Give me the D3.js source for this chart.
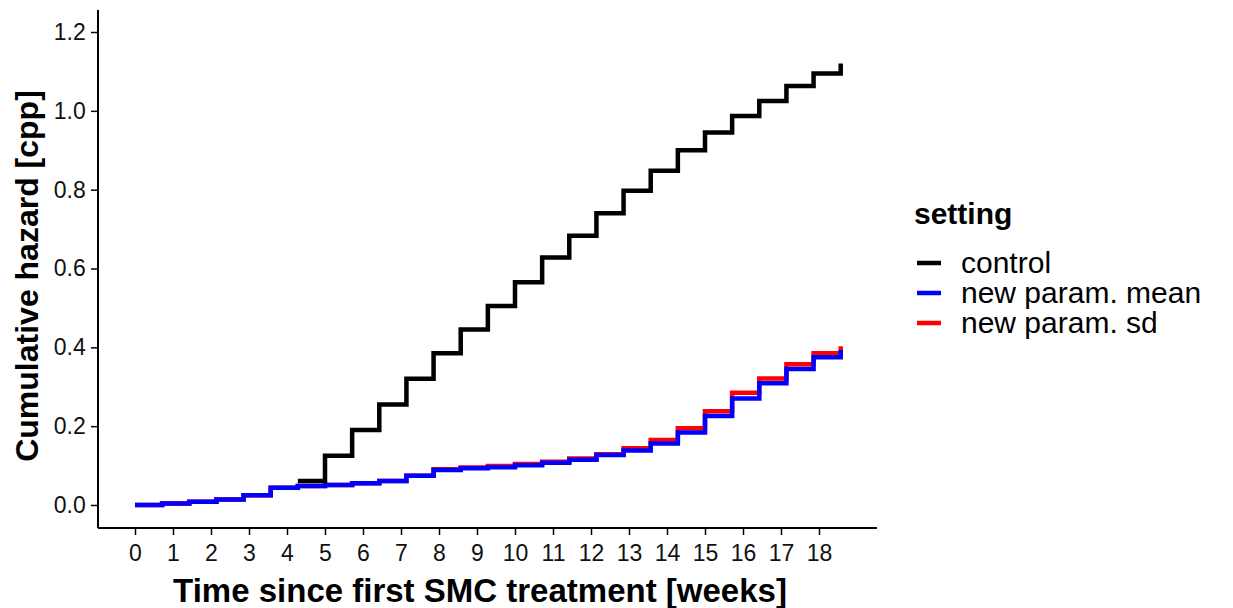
<!DOCTYPE html>
<html><head><meta charset="utf-8">
<script src="https://cdn.jsdelivr.net/npm/d3@7"></script>
<style>body{margin:0;background:#fff}text{font-family:"Liberation Sans",Arial,sans-serif}</style>
</head><body><svg id="c" width="1233" height="608"></svg>
<script>
// step times in weeks (one step every 5 days)
const stepTimes = d3.range(27).map(i => i * 5 / 7)
const controlStart = 6
const controlVals = [0.061,0.125,0.19,0.255,0.32,0.385,0.445,0.505,0.565,0.628,0.683,0.74,0.797,0.848,0.9,0.945,0.987,1.025,1.063,1.095,1.12]
const meanVals = [0,0.004,0.008,0.014,0.025,0.044,0.048,0.051,0.055,0.061,0.074,0.089,0.093,0.096,0.101,0.107,0.115,0.127,0.138,0.156,0.184,0.226,0.27,0.309,0.345,0.375,0.393]
const sdVals = [0,0.004,0.008,0.014,0.025,0.044,0.048,0.051,0.055,0.061,0.074,0.091,0.095,0.099,0.104,0.11,0.118,0.129,0.144,0.165,0.195,0.238,0.285,0.321,0.357,0.385,0.403]
const xTicks = d3.range(19)
const yTicks = [0,0.2,0.4,0.6,0.8,1.0,1.2]
const seriesNames = ["control","new param. mean","new param. sd"]
const colors = ["black","blue","red"]

const svg = d3.select("#c")
const x = d3.scaleLinear().domain([0,18]).range([135,819])
const y = d3.scaleLinear().domain([0,1.2]).range([505,32])

// step-after path: horizontal to next time, then vertical
function stepPts(vals, start) {
  const pts = []
  vals.forEach((v,i) => {
    const t = stepTimes[start+i]
    if (i > 0) pts.push([t, vals[i-1]])
    pts.push([t, v])
  })
  return pts
}

const line = d3.line().x(d=>x(d[0])).y(d=>y(d[1]))
const drawOrder = [[sdVals,0,"red"],[meanVals,0,"blue"],[controlVals,controlStart,"black"]]
svg.selectAll("path.s").data(drawOrder).join("path").attr("class","s")
  .attr("d", d => line(stepPts(d[0], d[1]))).attr("fill","none")
  .attr("stroke-width",4.5).attr("stroke", d => d[2])

const ax = svg.append("g").attr("transform","translate(0,528)")
  .call(d3.axisBottom(x).tickValues(xTicks).tickSize(7).tickFormat(d3.format("d")))
ax.select(".domain").attr("d","M98,0H877").attr("stroke-width",2)
const ay = svg.append("g").attr("transform","translate(98,0)")
  .call(d3.axisLeft(y).tickValues(yTicks).tickSize(7).tickFormat(d3.format(".1f")))
ay.select(".domain").attr("d","M0,10V528").attr("stroke-width",2)
svg.selectAll(".tick line").attr("stroke-width",1.5)
svg.selectAll(".tick text").attr("font-size",23).attr("fill","#111")
ax.selectAll(".tick text").attr("dy","1.0em")
ay.selectAll(".tick text").attr("dx","-0.1em")

svg.append("text").attr("x",480).attr("y",602).attr("text-anchor","middle")
  .attr("font-size",33).attr("font-weight","bold").text("Time since first SMC treatment [weeks]")
svg.append("text").attr("transform","translate(38,276) rotate(-90)").attr("text-anchor","middle")
  .attr("font-size",32).attr("font-weight","bold").text("Cumulative hazard [cpp]")

const lg = svg.append("g")
lg.append("text").attr("x",914).attr("y",224).attr("font-size",30).attr("font-weight","bold").text("setting")
seriesNames.forEach((n,i)=>{
  const yy = 263 + i*30
  lg.append("line").attr("x1",917).attr("x2",941).attr("y1",yy).attr("y2",yy).attr("stroke",colors[i]).attr("stroke-width",4.5)
  lg.append("text").attr("x",961).attr("y",yy+10).attr("font-size",30).text(n)
})
</script></body></html>
